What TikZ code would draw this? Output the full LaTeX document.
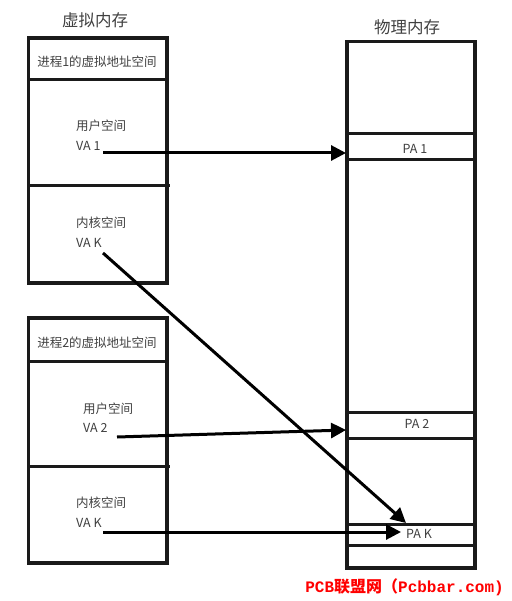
\documentclass[tikz,border=0pt]{standalone}
\usepackage{fontspec}
\setmainfont{Noto Sans CJK SC}
\newfontfamily\cjk{Noto Sans CJK SC}
\newfontfamily\wmlatin{Liberation Mono}
\usetikzlibrary{arrows.meta}
\definecolor{txtgray}{HTML}{404040}
\definecolor{linek}{HTML}{1A1A1A}
\tikzset{
  box/.style={draw=linek, line width=3.4pt},
  divider/.style={draw=linek, line width=3pt},
  conn/.style={draw=black, line width=3pt, -{Triangle[length=15pt,width=15pt]}},
  lbl/.style={text=txtgray, font=\fontsize{12.5pt}{14pt}\selectfont, inner sep=0pt},
  ttl/.style={text=txtgray, font=\fontsize{16.5pt}{18pt}\selectfont, inner sep=0pt},
}
\begin{document}
\begin{tikzpicture}[x=1pt,y=-1pt]
\useasboundingbox (0,0) rectangle (511,601);
% titles
\node[ttl] (tv) at (95,20) {虚拟内存};
\node[ttl] (tp) at (407,27) {物理内存};
% virtual box 1
\draw[box] (28.5,38) rectangle (167,283);
\draw[divider] (28.5,80) -- (167,80);
\draw[divider] (28.5,186) -- (170,186);
\node[lbl] (p1) at (97,62) {进程1的虚拟地址空间};
\node[lbl, anchor=west] (u1) at (76,126) {用户空间};
\node[lbl, anchor=west] (va1) at (76,146) {VA 1};
\node[lbl, anchor=west] (k1) at (76,223) {内核空间};
\node[lbl, anchor=west] (vak1) at (76,243) {VA K};
% virtual box 2
\draw[box] (28.5,318) rectangle (167,563);
\draw[divider] (28.5,361) -- (167,361);
\draw[divider] (28.5,466) -- (170,466);
\node[lbl] (p2) at (97,343) {进程2的虚拟地址空间};
\node[lbl, anchor=west] (u2) at (83,409) {用户空间};
\node[lbl, anchor=west] (va2) at (83,428) {VA 2};
\node[lbl, anchor=west] (k2) at (76,503) {内核空间};
\node[lbl, anchor=west] (vak2) at (76,523) {VA K};
% physical memory
\draw[box] (347,41.5) rectangle (475,568);
\draw[divider] (347,134) -- (475,134);
\draw[divider] (347,160) -- (475,160);
\draw[divider] (347,412) -- (475,412);
\draw[divider] (347,438) -- (475,438);
\draw[divider] (347,524) -- (475,524);
\draw[divider] (347,545) -- (475,545);
\node[lbl] (pa1) at (415,149) {PA 1};
\node[lbl] (pa2) at (417,424) {PA 2};
\node[lbl] (pak) at (419,534) {PA K};
% connector endpoints
\coordinate (s1) at (103,153);
\coordinate (e1) at (346,153);
\coordinate (s2) at (117,437);
\coordinate (e2) at (346,430);
\coordinate (sk1) at (103,253);
\coordinate (ek1) at (406,523);
\coordinate (sk2) at (103,532);
\coordinate (ek2) at (401,532);
\draw[conn] (s1) -- (e1);
\draw[conn] (s2) -- (e2);
\draw[conn] (sk1) -- (ek1);
\draw[conn] (sk2) -- (ek2);
% watermark
\node[text=red, inner sep=0pt, anchor=east, font=\fontsize{16pt}{18pt}\selectfont\bfseries] (wm) at (504,587) {{\wmlatin PCB}{\cjk 联盟网（}{\wmlatin Pcbbar.com)}};
\end{tikzpicture}
\end{document}
